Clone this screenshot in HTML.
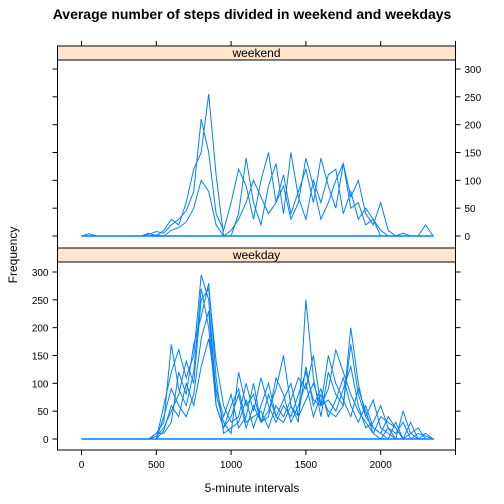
<!DOCTYPE html>
<html><head><meta charset="utf-8"><style>
body{margin:0;background:#fff;}
svg{display:block;font-family:"Liberation Sans",sans-serif;}
</style></head><body>
<svg width="504" height="504" viewBox="0 0 504 504">
<text x="252" y="19" text-anchor="middle" font-size="14" font-weight="bold">Average number of steps divided in weekend and weekdays</text>
<g id="frame"></g>
<g id="marks"></g>
<text x="252" y="492" text-anchor="middle" font-size="12">5-minute intervals</text>
<text x="17" y="255" text-anchor="middle" font-size="12" transform="rotate(-90 17 255)">Frequency</text>
</svg>
<script>
const xTicks=[0,500,1000,1500,2000];
const yTicks=[0,50,100,150,200,250,300];
const panels=["weekend","weekday"];
const xGrid=[0,50,100,150,200,250,300,350,400,450,500,550,600,650,700,750,800,850,900,950,1000,1050,1100,1150,1200,1250,1300,1350,1400,1450,1500,1550,1600,1650,1700,1750,1800,1850,1900,1950,2000,2050,2100,2150,2200,2250,2300,2350];
const weekendSeries=[
[0,4,0,0,0,0,0,0,0,3,8,5,20,30,45,80,210,150,40,10,60,120,90,30,100,150,60,110,40,80,120,60,140,90,50,130,70,100,40,20,60,10,0,0,0,0,20,0],
[0,0,0,0,0,0,0,0,0,5,0,10,30,20,60,120,150,255,110,0,0,40,140,60,20,90,130,40,150,70,30,100,60,110,120,40,80,30,50,30,10,0,0,0,0,0,0,0],
[0,0,0,0,0,0,0,0,0,0,2,0,10,15,25,50,100,80,20,0,10,30,60,100,70,40,60,90,30,60,140,90,30,60,100,130,50,60,20,30,0,0,0,5,0,0,0,0]
];
const weekdaySeries=[
[0,0,0,0,0,0,0,0,0,0,10,30,170,90,60,120,270,200,60,20,40,80,20,60,30,80,40,70,100,40,130,60,90,40,70,110,60,30,60,20,10,40,20,0,30,0,10,0],
[0,0,0,0,0,0,0,0,0,0,0,60,120,160,110,150,295,250,80,30,10,120,60,80,30,50,90,150,60,30,250,110,40,120,80,60,200,100,40,70,20,10,0,50,10,20,0,0],
[0,0,0,0,0,0,0,0,0,0,5,20,50,80,140,100,250,270,140,60,30,40,100,50,110,60,30,60,40,80,120,70,60,90,160,120,80,50,30,10,40,30,20,0,0,10,5,0],
[0,0,0,0,0,0,0,0,0,0,0,40,90,60,40,80,180,230,60,20,60,90,30,40,50,20,60,40,70,110,90,150,60,70,50,90,130,60,20,30,60,20,10,30,0,0,0,0],
[0,0,0,0,0,0,0,0,0,0,10,10,30,120,80,170,220,280,110,10,20,30,70,20,60,100,40,30,60,40,70,100,60,150,100,70,40,90,50,10,0,20,0,0,10,0,0,0],
[0,0,0,0,0,0,0,0,0,0,0,15,60,40,100,60,130,180,90,40,80,20,40,100,30,40,110,80,30,60,100,40,80,50,40,60,170,80,40,20,10,0,30,0,0,0,0,0]
];
const NS="http://www.w3.org/2000/svg";
const L=57.5,R=455.5;
const boxes=[{strip:46,top:60,bot:248},{strip:248,top:262,bot:450}];
function xs(v){return 81.5+v*0.1496;}
function ys(v,p){return (p===0?236:439)-v*0.5567;}
function mk(tag,attrs,parent){const e=document.createElementNS(NS,tag);for(const k in attrs)e.setAttribute(k,attrs[k]);parent.appendChild(e);return e;}
const frame=document.getElementById('frame'),marks=document.getElementById('marks');
boxes.forEach((b,p)=>{
  const s=mk('rect',{x:L,y:b.strip,width:R-L,height:b.top-b.strip,fill:'#ffe5cc',stroke:'#000'},frame);
  
  
  const t=mk('text',{x:(L+R)/2,y:b.top-3,'text-anchor':'middle','font-size':12},frame);
  t.textContent=panels[p];
  
  
  const r=mk('rect',{x:L,y:b.top,width:R-L,height:b.bot-b.top,fill:'none',stroke:'#000'},frame);
  
  
  yTicks.forEach(v=>{
    const y=ys(v,p);
    if(p===0){
      mk('line',{x1:R,x2:R+5,y1:y,y2:y,stroke:'#000'},frame);
      mk('line',{x1:L,x2:L-5,y1:y,y2:y,stroke:'#000'},frame);
      const tl=mk('text',{x:R+9,y:y+4,'font-size':10},frame);tl.textContent=v;
      
      
    }else{
      mk('line',{x1:L,x2:L-5,y1:y,y2:y,stroke:'#000'},frame);
      mk('line',{x1:R,x2:R+5,y1:y,y2:y,stroke:'#000'},frame);
      const tl=mk('text',{x:L-9,y:y+4,'font-size':10,'text-anchor':'end'},frame);tl.textContent=v;
      
      
    }
  });
});
xTicks.forEach(v=>{
  const x=xs(v);
  mk('line',{x1:x,x2:x,y1:46,y2:41,stroke:'#000'},frame);
  mk('line',{x1:x,x2:x,y1:450,y2:455,stroke:'#000'},frame);
  const tl=mk('text',{x:x,y:468,'font-size':10,'text-anchor':'middle'},frame);tl.textContent=v;
  
  
});
mk('line',{x1:xs(2500),x2:xs(2500),y1:46,y2:41,stroke:'#000'},frame);
mk('line',{x1:xs(2500),x2:xs(2500),y1:450,y2:455,stroke:'#000'},frame);
[weekendSeries,weekdaySeries].forEach((ser,p)=>{
  const base=mk('line',{x1:xs(0),x2:xs(2355),y1:ys(0,p),y2:ys(0,p),stroke:'#0080ff','stroke-width':1.6},marks);
  
  
  ser.forEach((vals,i)=>{
    const d=vals.map((v,j)=>(j?'L':'M')+xs(xGrid[j]).toFixed(1)+' '+ys(v,p).toFixed(1)).join(' ');
    const pa=mk('path',{d:d,fill:'none',stroke:'#0080ff','stroke-width':1},marks);
    
    
  });
});
</script>
</body></html>
